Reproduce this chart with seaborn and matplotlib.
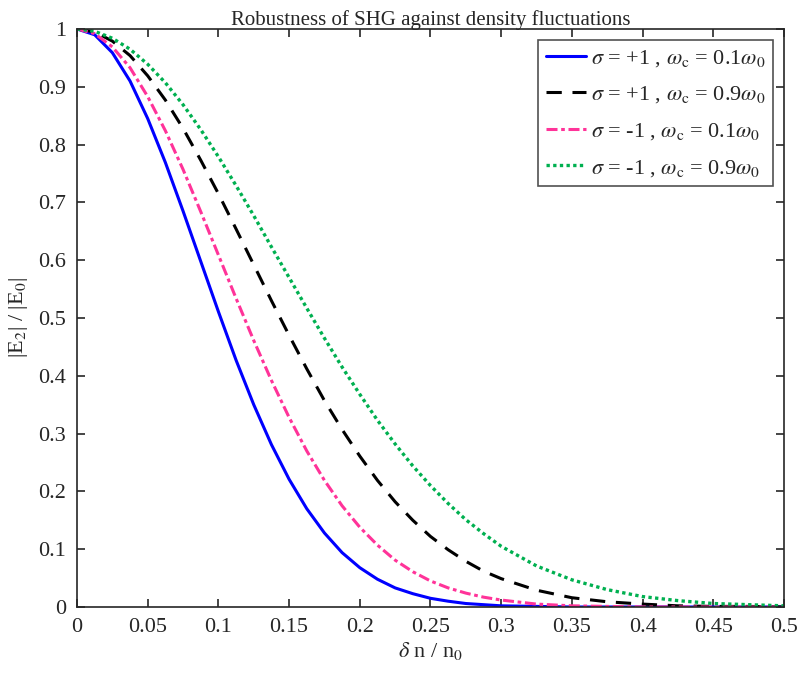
import seaborn as sns
import matplotlib.pyplot as plt
import pandas as pd
import numpy as np

# x grid (delta n / n0)
dn = [0, 0.0125, 0.025, 0.0375, 0.05, 0.0625, 0.075, 0.0875, 0.1, 0.1125,
      0.125, 0.1375, 0.15, 0.1625, 0.175, 0.1875, 0.2, 0.2125, 0.225, 0.2375,
      0.25, 0.2625, 0.275, 0.2875, 0.3, 0.325, 0.35, 0.375, 0.4, 0.425,
      0.45, 0.475, 0.5]

# |E2|/|E0|
blue_p1_01 = [1.0, 0.990, 0.959, 0.910, 0.845, 0.769, 0.685, 0.598, 0.511, 0.427,
              0.350, 0.281, 0.221, 0.170, 0.128, 0.094, 0.068, 0.048, 0.033, 0.023,
              0.015, 0.010, 0.006, 0.004, 0.002, 0.001, 0.0, 0.0, 0.0, 0.0,
              0.0, 0.0, 0.0]
black_p1_09 = [1.0, 0.995, 0.979, 0.954, 0.919, 0.877, 0.828, 0.773, 0.715, 0.654,
               0.592, 0.530, 0.470, 0.412, 0.357, 0.307, 0.261, 0.219, 0.182, 0.150,
               0.122, 0.099, 0.079, 0.062, 0.049, 0.029, 0.016, 0.009, 0.005, 0.002,
               0.001, 0.001, 0.0]
pink_m1_01 = [1.0, 0.992, 0.969, 0.933, 0.883, 0.824, 0.757, 0.684, 0.609, 0.534,
              0.461, 0.392, 0.328, 0.270, 0.219, 0.175, 0.138, 0.107, 0.081, 0.061,
              0.045, 0.033, 0.024, 0.017, 0.012, 0.005, 0.002, 0.001, 0.0, 0.0,
              0.0, 0.0, 0.0]
green_m1_09 = [1.0, 0.996, 0.984, 0.965, 0.939, 0.907, 0.869, 0.826, 0.779, 0.729,
               0.677, 0.623, 0.570, 0.517, 0.465, 0.415, 0.368, 0.323, 0.282, 0.244,
               0.210, 0.179, 0.151, 0.127, 0.105, 0.071, 0.047, 0.030, 0.018, 0.011,
               0.006, 0.004, 0.002]

labels = [r'$\sigma$ = +1 , $\omega_{\rm c}$ = 0.1$\omega_0$',
          r'$\sigma$ = +1 , $\omega_{\rm c}$ = 0.9$\omega_0$',
          r'$\sigma$ = -1 , $\omega_{\rm c}$ = 0.1$\omega_0$',
          r'$\sigma$ = -1 , $\omega_{\rm c}$ = 0.9$\omega_0$']

sns.set_style('ticks')
plt.rcParams['font.family'] = ['Liberation Serif', 'DejaVu Serif']
plt.rcParams['mathtext.fontset'] = 'stix'

fig = plt.figure(figsize=(8.03, 6.82), dpi=100)
ax = fig.add_axes([0.0959, 0.110, 0.8804, 0.8475])

series = [blue_p1_01, black_p1_09, pink_m1_01, green_m1_09]
colors = ['#0000FF', '#000000', '#FF3399', '#00B050']
styles = [(None, None), (0, (5, 3.5)), (0, (3.6, 1.2, 1.2, 1.2)), (0, (1, 1))]
widths = [2.2, 2.2, 2.2, 2.4]

for y, c, ls, lw, lab in zip(series, colors, styles, widths, labels):
    df = pd.DataFrame({'dn': dn, 'E': y})
    sns.lineplot(data=df, x='dn', y='E', color=c, linewidth=lw, ax=ax, label=lab)
    line = ax.lines[-1]
    if ls[0] is not None:
        line.set_linestyle(ls)

ax.set_xlim(0, 0.5)
ax.set_ylim(0, 1)
ax.set_xticks(np.arange(0, 0.501, 0.05))
ax.set_xticklabels(['0', '0.05', '0.1', '0.15', '0.2', '0.25', '0.3', '0.35', '0.4', '0.45', '0.5'])
ax.set_yticks(np.arange(0, 1.001, 0.1))
ax.set_yticklabels(['0', '0.1', '0.2', '0.3', '0.4', '0.5', '0.6', '0.7', '0.8', '0.9', '1'])
ax.tick_params(direction='in', top=True, right=True, length=6, width=1.2,
               labelsize=16, colors='#262626', pad=8)
for s in ax.spines.values():
    s.set_linewidth(1.2)
    s.set_color('#262626')

ax.set_xlabel(r'$\delta$ n / n$_0$', fontsize=16, color='#262626', labelpad=2)
ax.set_ylabel(r'|E$_2$| / |E$_0$|', fontsize=16, color='#262626', labelpad=6)
ax.set_title('Robustness of SHG against density fluctuations', fontsize=15, pad=3)

leg = ax.legend(loc='upper right', fontsize=16, frameon=True, fancybox=False,
                edgecolor='#262626', handlelength=1.8, handletextpad=0.2,
                borderpad=0.35, labelspacing=0.7, borderaxespad=0.5)
leg.get_frame().set_linewidth(1.2)

fig.savefig('out.png', dpi=100)
